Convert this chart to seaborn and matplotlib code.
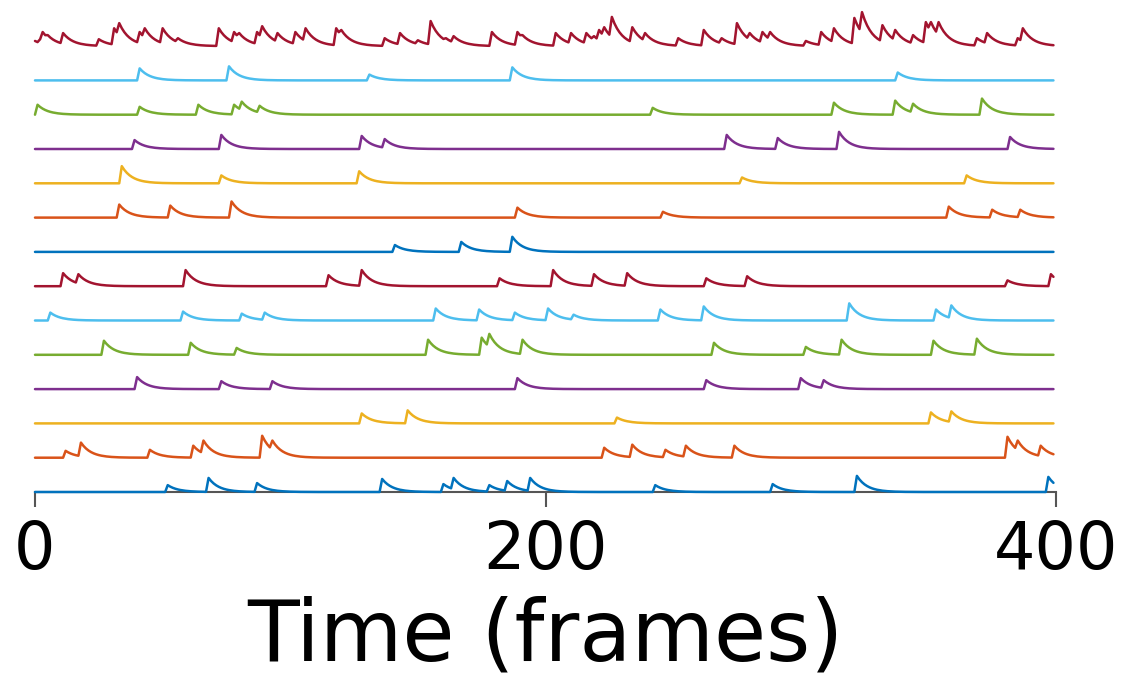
import numpy as np
import pandas as pd
import matplotlib
matplotlib.use("Agg")
import matplotlib.pyplot as plt
import seaborn as sns

# ---- data (event frame, peak height in trace-spacing units) ----
n_frames = 400
decay_tau = 4.0  # frames

cell_colors = ["#0072BD", "#D95319", "#EDB120", "#7E2F8E", "#77AC30", "#4DBEEE", "#A2142F",
               "#0072BD", "#D95319", "#EDB120", "#7E2F8E", "#77AC30", "#4DBEEE", "#A2142F"]

c0_frames = [52, 68, 87, 136, 160, 164, 178, 185, 194, 243, 289, 322, 397]
c0_peaks = [0.20, 0.41, 0.26, 0.38, 0.23, 0.41, 0.20, 0.32, 0.41, 0.20, 0.23, 0.47, 0.44]

c1_frames = [12, 18, 45, 62, 66, 89, 93, 223, 234, 247, 255, 274, 381, 385, 394]
c1_peaks = [0.20, 0.44, 0.23, 0.35, 0.50, 0.64, 0.50, 0.29, 0.38, 0.23, 0.35, 0.35, 0.61, 0.50, 0.35]

c2_frames = [128, 146, 228, 351, 359]
c2_peaks = [0.29, 0.38, 0.17, 0.32, 0.35]

c3_frames = [40, 73, 93, 189, 263, 300, 309]
c3_peaks = [0.35, 0.23, 0.23, 0.32, 0.26, 0.32, 0.26]

c4_frames = [27, 61, 79, 154, 175, 178, 191, 266, 302, 316, 352, 369]
c4_peaks = [0.41, 0.35, 0.20, 0.44, 0.50, 0.61, 0.44, 0.35, 0.23, 0.44, 0.41, 0.47]

c5_frames = [6, 58, 81, 90, 157, 174, 188, 201, 211, 245, 262, 319, 353, 359]
c5_peaks = [0.23, 0.26, 0.20, 0.23, 0.35, 0.32, 0.23, 0.35, 0.17, 0.32, 0.41, 0.50, 0.32, 0.44]

c6_frames = [11, 17, 59, 115, 128, 182, 203, 219, 232, 263, 279, 381, 398]
c6_peaks = [0.38, 0.35, 0.47, 0.32, 0.47, 0.23, 0.47, 0.35, 0.38, 0.23, 0.29, 0.17, 0.35]

c7_frames = [141, 167, 187]
c7_peaks = [0.20, 0.29, 0.44]

c8_frames = [33, 53, 77, 189, 246, 358, 375, 386]
c8_peaks = [0.38, 0.35, 0.47, 0.29, 0.17, 0.32, 0.23, 0.23]

c9_frames = [34, 73, 127, 277, 365]
c9_peaks = [0.50, 0.23, 0.35, 0.17, 0.23]

c10_frames = [39, 73, 128, 137, 271, 291, 315, 382]
c10_peaks = [0.26, 0.41, 0.38, 0.29, 0.41, 0.32, 0.50, 0.35]

c11_frames = [1, 41, 64, 78, 81, 88, 242, 313, 337, 344, 371]
c11_peaks = [0.29, 0.23, 0.29, 0.29, 0.38, 0.26, 0.20, 0.35, 0.41, 0.32, 0.47]

c12_frames = [41, 76, 131, 187, 338]
c12_peaks = [0.35, 0.41, 0.17, 0.38, 0.23]

c13_frames = [0, 2, 3, 5, 11, 25, 31, 33, 41, 43, 50, 56, 72, 78, 80, 87, 89, 95, 102, 106, 118,
              120, 137, 143, 150, 155, 161, 164, 179, 189, 191, 204, 210, 216, 219, 221, 223,
              226, 234, 239, 252, 262, 269, 275, 280, 285, 288, 302, 308, 313, 321, 324, 332,
              337, 344, 349, 351, 354, 369, 373, 385, 387]
c13_peaks = [0.15, 0.20, 0.41, 0.32, 0.38, 0.20, 0.52, 0.67, 0.41, 0.52, 0.52, 0.23, 0.52, 0.41, 0.38,
             0.41, 0.58, 0.38, 0.41, 0.52, 0.52, 0.47, 0.23, 0.38, 0.17, 0.73, 0.23, 0.29, 0.41,
             0.41, 0.32, 0.38, 0.38, 0.38, 0.29, 0.47, 0.55, 0.85, 0.55, 0.38, 0.23, 0.47, 0.23,
             0.67, 0.38, 0.41, 0.41, 0.15, 0.41, 0.52, 0.82, 0.99, 0.61, 0.47, 0.32, 0.70, 0.70,
             0.70, 0.23, 0.38, 0.23, 0.52]

events = [(c0_frames, c0_peaks), (c1_frames, c1_peaks), (c2_frames, c2_peaks),
          (c3_frames, c3_peaks), (c4_frames, c4_peaks), (c5_frames, c5_peaks),
          (c6_frames, c6_peaks), (c7_frames, c7_peaks), (c8_frames, c8_peaks),
          (c9_frames, c9_peaks), (c10_frames, c10_peaks), (c11_frames, c11_peaks),
          (c12_frames, c12_peaks), (c13_frames, c13_peaks)]

x_ticks = [0, 200, 400]
x_label = "Time (frames)"

# ---- build traces: each event sets the peak, then exponential decay ----
g = np.exp(-1.0 / decay_tau)
rows = []
for i, (fr, pk) in enumerate(events):
    ev = dict(zip(fr, pk))
    c = 0.0
    for t in range(n_frames):
        c = c * g
        if t in ev:
            c = max(c, ev[t])
        rows.append({"frame": t, "value": c + i, "cell": i})
df = pd.DataFrame(rows)

sns.set_style("white")
plt.rcParams["font.family"] = ["DejaVu Sans"]
plt.rcParams["text.color"] = "black"
plt.rcParams["axes.labelcolor"] = "black"
plt.rcParams["xtick.color"] = "black"

fig = plt.figure(figsize=(11.26, 6.83), dpi=100)
ax = fig.add_axes([35 / 1126, 191 / 683, 1021 / 1126, 492 / 683])

sns.lineplot(data=df, x="frame", y="value", hue="cell", palette=cell_colors,
             estimator=None, legend=False, linewidth=1.8, ax=ax)
for ln in ax.lines:
    ln.set_clip_on(False)
    ln.set_zorder(3)
    ln.set_solid_joinstyle("round")

ax.set_xlim(0, 400)
ax.set_ylim(0, 492 / 34.3)
for s in ["left", "top", "right"]:
    ax.spines[s].set_visible(False)
ax.spines["bottom"].set_color("#555555")
ax.spines["bottom"].set_linewidth(1.5)
ax.spines["bottom"].set_zorder(1)
ax.set_yticks([])
ax.set_ylabel("")
ax.set_xticks(x_ticks)
ax.set_xticklabels([str(v) for v in x_ticks])
ax.tick_params(axis="x", direction="out", length=10.8, width=1.5, color="#555555",
               labelcolor="black", labelsize=47, pad=9, bottom=True)
ax.set_xlabel(x_label, fontsize=61, labelpad=9, color="black")

fig.savefig("out.png", dpi=100)
